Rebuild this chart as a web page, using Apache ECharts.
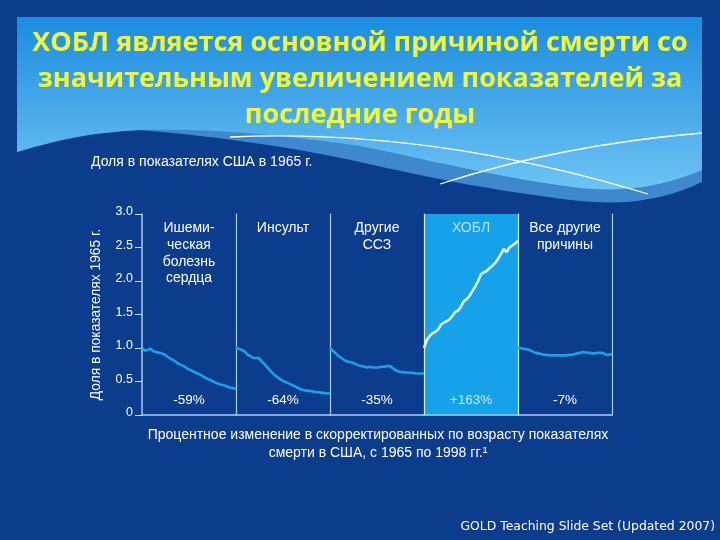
<!DOCTYPE html>
<html><head><meta charset="utf-8">
<script src="https://cdn.jsdelivr.net/npm/echarts@6/dist/echarts.min.js"></script>
<style>html,body{margin:0;padding:0;background:#0B3D8C;}#c{width:720px;height:540px;}</style>
</head><body><div id="c"></div>
<script>
const years = [1965,1966,1967,1968,1969,1970,1971,1972,1973,1974,1975,1976,1977,1978,1979,1980,1981,1982,1983,1984,1985,1986,1987,1988,1989,1990,1991,1992,1993,1994,1995,1996,1997,1998];
const categories = ['Ишеми-\nческая\nболезнь\nсердца','Инсульт','Другие\nССЗ','ХОБЛ','Все другие\nпричины'];
const changeLabels = ['-59%','-64%','-35%','+163%','-7%'];
const yTickLabels = ['0','0.5','1.0','1.5','2.0','2.5','3.0'];
const ihd = [1.00,0.96,0.97,0.99,0.95,0.94,0.93,0.92,0.90,0.87,0.84,0.82,0.79,0.76,0.74,0.72,0.69,0.67,0.65,0.63,0.61,0.59,0.56,0.54,0.52,0.50,0.48,0.46,0.45,0.44,0.42,0.41,0.40,0.39];
const stroke = [1.00,0.99,0.97,0.95,0.90,0.88,0.85,0.85,0.85,0.80,0.76,0.71,0.66,0.62,0.58,0.55,0.52,0.50,0.48,0.46,0.44,0.42,0.40,0.38,0.37,0.36,0.36,0.35,0.34,0.34,0.33,0.33,0.32,0.32];
const otherCvd = [1.00,0.96,0.92,0.88,0.85,0.82,0.80,0.79,0.78,0.76,0.74,0.73,0.72,0.71,0.72,0.71,0.71,0.71,0.72,0.72,0.73,0.73,0.70,0.67,0.65,0.64,0.64,0.63,0.63,0.63,0.62,0.62,0.62,0.62];
const copd = [1.00,1.12,1.18,1.22,1.24,1.28,1.35,1.38,1.40,1.43,1.48,1.54,1.56,1.62,1.70,1.73,1.78,1.85,1.92,2.00,2.10,2.13,2.15,2.19,2.23,2.27,2.33,2.40,2.48,2.43,2.50,2.53,2.56,2.60];
const allOther = [1.00,1.00,0.99,0.98,0.97,0.95,0.93,0.92,0.91,0.90,0.90,0.89,0.89,0.89,0.89,0.89,0.89,0.89,0.90,0.90,0.91,0.92,0.93,0.94,0.93,0.93,0.92,0.92,0.93,0.93,0.92,0.90,0.90,0.91];
const seriesValues = [ihd, stroke, otherCvd, copd, allOther];

const chart = echarts.init(document.getElementById('c'));
const L0 = 142, PW = 94, TOP = 214, H = 201;
const panelLine = '#A9CDF2';
const grids = [], xAxes = [], yAxes = [], series = [];
for (let i = 0; i < 5; i++) {
  grids.push({left: L0 + PW * i, top: TOP, width: PW, height: H,
    show: i === 3, backgroundColor: '#15A2E8', borderWidth: 0});
  xAxes.push({gridIndex: i, type: 'category', data: years, boundaryGap: false,
    axisLine: {show: true, lineStyle: {color: panelLine, width: 1.5}},
    axisTick: {show: false}, axisLabel: {show: false}, splitLine: {show: false}});
  yAxes.push({gridIndex: i, type: 'value', min: 0, max: 3, interval: 0.5, position: 'right',
    axisLine: {show: true, onZero: false, lineStyle: {color: i === 2 || i === 3 ? '#D8EEFF' : panelLine, width: 1.2}},
    axisTick: {show: false}, axisLabel: {show: false}, splitLine: {show: false}});
}
yAxes.push({gridIndex: 0, type: 'value', min: 0, max: 3, interval: 0.5, position: 'left',
  name: 'Доля в показателях 1965 г.', nameLocation: 'middle', nameRotate: 90, nameGap: 39,
  nameTextStyle: {color: '#FFFFFF', fontSize: 13.8, fontFamily: 'Liberation Sans'},
  axisLine: {show: true, onZero: false, lineStyle: {color: panelLine, width: 1.5}},
  axisTick: {show: true, inside: false, length: 7, lineStyle: {color: '#D0E4FA', width: 1}},
  axisLabel: {color: '#FFFFFF', fontSize: 12.5, fontFamily: 'Liberation Sans', margin: 9,
    verticalAlign: 'bottom', lineHeight: 4,
    formatter: v => yTickLabels[Math.round(v / 0.5)]},
  splitLine: {show: false}});
for (let i = 0; i < 5; i++) {
  series.push({type: 'line', xAxisIndex: i, yAxisIndex: i, data: seriesValues[i],
    symbol: 'none', smooth: false, z: 5,
    lineStyle: {width: 2.6, color: i === 3 ? '#E6F6FF' : '#1E9FE8'}});
}

// decorative banner outline helper (cubic bezier sampling)
function cubicPts(p0, p1, p2, p3, n) {
  const out = [];
  for (let k = 0; k <= n; k++) {
    const t = k / n, u = 1 - t;
    out.push([u*u*u*p0[0] + 3*u*u*t*p1[0] + 3*u*t*t*p2[0] + t*t*t*p3[0],
              u*u*u*p0[1] + 3*u*u*t*p1[1] + 3*u*t*t*p2[1] + t*t*t*p3[1]]);
  }
  return out;
}
function shapeFrom(segs) {
  let pts = [[17, 17], [702, 17]];
  segs.forEach(s => { pts = pts.concat(cubicPts(s[0], s[1], s[2], s[3], 12)); });
  return pts;
}
const lightBanner = shapeFrom([
  [[702,170],[660,188],[620,192],[580,188]],
  [[580,188],[500,178],[430,160],[360,146]],
  [[360,146],[280,134],[200,128],[140,130]],
  [[140,130],[90,132],[50,142],[17,152]]
]);
const midBanner = shapeFrom([
  [[702,182],[660,202],[620,205],[580,201]],
  [[580,201],[500,192],[430,178],[360,162]],
  [[360,162],[290,147],[230,138],[140,130]],
  [[140,130],[90,132],[50,142],[17,152]]
]);

const graphics = [
  {type: 'polygon', z: -20, shape: {points: midBanner}, style: {fill: '#3E88CE'}},
  {type: 'polygon', z: -19, shape: {points: lightBanner},
    style: {fill: {type: 'linear', x: 0, y: 0, x2: 0, y2: 1, colorStops: [{offset: 0, color: '#1B8CE0'}, {offset: 1, color: '#6EC3F3'}]}}},
  {type: 'bezierCurve', z: -17, shape: {x1: 230, y1: 137, cpx1: 430, cpy1: 128, x2: 648, y2: 194}, style: {fill: null, stroke: '#FFFFFF', lineWidth: 1.3}},
  {type: 'bezierCurve', z: -17, shape: {x1: 440, y1: 184, cpx1: 560, cpy1: 145, x2: 702, y2: 133}, style: {fill: null, stroke: '#FFFFFF', lineWidth: 1.3}},
  {type: 'text', left: 91, top: 155, style: {text: 'Доля в показателях США в 1965 г.', fill: '#FFFFFF', font: '14px "Liberation Sans"'}},
  {type: 'text', x: 378, y: 444, style: {text: 'Процентное изменение в скорректированных по возрасту показателях\nсмерти в США, с 1965 по 1998 гг.¹', fill: '#FFFFFF', font: '14px "Liberation Sans"', align: 'center', verticalAlign: 'middle', lineHeight: 18}},
  {type: 'text', right: 5, top: 521, style: {text: 'GOLD Teaching Slide Set (Updated 2007)', fill: '#FFFFFF', font: '12.4px "DejaVu Sans"'}}
];
for (let i = 0; i < 5; i++) {
  const cx = L0 + PW * i + PW / 2;
  graphics.push({type: 'text', x: cx, y: 220, z: 10, style: {text: categories[i], fill: i === 3 ? '#B5E4FB' : '#FFFFFF',
    font: '14px "Liberation Sans"', align: 'center', verticalAlign: 'top', lineHeight: 16.7}});
  graphics.push({type: 'text', x: cx, y: 400, z: 10, style: {text: changeLabels[i], fill: i === 3 ? '#C8ECFC' : '#FFFFFF',
    font: '13.5px "Liberation Sans"', align: 'center', verticalAlign: 'middle'}});
}

chart.setOption({
  backgroundColor: '#0B3D8C',
  animation: false,
  title: {text: 'ХОБЛ является основной причиной смерти со\nзначительным увеличением показателей за\nпоследние годы',
    left: 'center', top: 20,
    textStyle: {color: '#F2F53A', fontSize: 27, fontWeight: 'bold', fontFamily: 'Open Sans', lineHeight: 36}},
  grid: grids, xAxis: xAxes, yAxis: yAxes, series: series, graphic: graphics
});
</script></body></html>
